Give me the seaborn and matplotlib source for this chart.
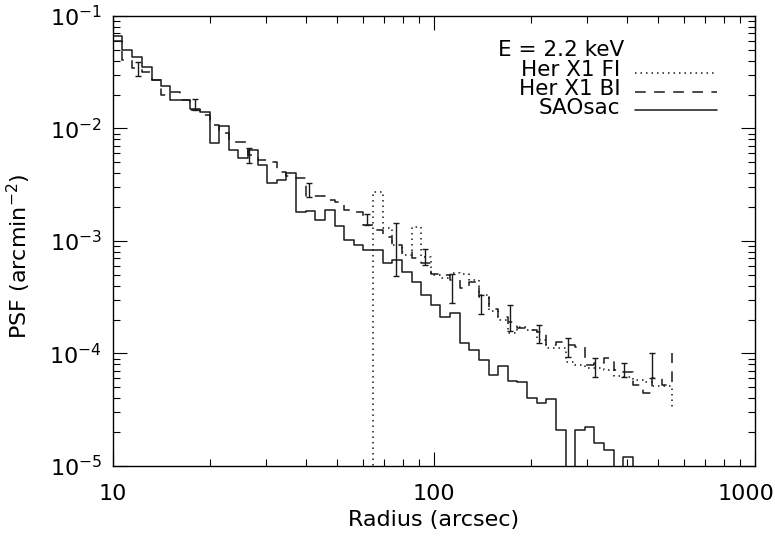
import numpy as np
import pandas as pd
import seaborn as sns
import matplotlib.pyplot as plt
import matplotlib.transforms as mtransforms
from matplotlib.ticker import LogLocator, NullFormatter

#------------------------------- DATA --------------------------------#
# bin edges in arcsec (log bins)
edges = [10.0, 10.7, 11.5, 12.3, 13.2, 14.1, 15.1, 16.2, 17.4, 18.6,
         20.0, 21.4, 22.9, 24.5, 26.3, 28.2, 30.2, 32.4, 34.7, 37.2,
         39.8, 42.7, 45.7, 49.0, 52.5, 56.2, 60.3, 64.6, 69.2, 74.1,
         79.4, 85.1, 91.2, 97.7, 104.7, 112.2, 120.2, 128.8, 138.0, 147.9,
         158.5, 169.8, 182.0, 195.0, 208.9, 223.9, 239.9, 257.0, 275.4, 295.1,
         316.2, 338.8, 363.1, 389.0, 416.9, 446.7, 478.6, 512.9, 549.5]

# PSF per bin (arcmin^-2), last entry = level the step falls to at the end
saosac = [0.066, 0.050, 0.043, 0.035, 0.027, 0.024, 0.018, 0.018, 0.015, 0.014,
          0.0075, 0.0105, 0.0064, 0.0055, 0.0064, 0.0047, 0.0033, 0.0035, 0.0040, 0.0018,
          0.00185, 0.00154, 0.00189, 0.00136, 0.00102, 0.00092, 0.00083, 0.00083, 0.00064, 0.00068,
          0.00053, 0.00043, 0.00033, 0.00027, 0.00021, 0.00023, 0.000124, 0.000107, 8.8e-5, 6.4e-5,
          7.7e-5, 5.7e-5, 5.6e-5, 4.0e-5, 3.6e-5, 3.9e-5, 2.1e-5, 5e-6, 2.1e-5, 2.2e-5,
          1.6e-5, 1.4e-5, 5e-6, 1.2e-5, 3e-6]

her_bi = [0.060, 0.041, 0.0345, 0.032, 0.027, 0.020, 0.021, 0.0179, 0.0146, 0.0132,
          0.0107, 0.0091, 0.0076, 0.0076, 0.0058, 0.0052, 0.0050, 0.0041, 0.0038, 0.0036,
          0.0025, 0.0025, 0.0023, 0.0022, 0.0019, 0.0018, 0.0014, 0.00125, 0.00109, 0.00092,
          0.00080, 0.00071, 0.00064, 0.00051, 0.00050, 0.00045, 0.00038, 0.00043, 0.00032, 0.00025,
          0.00021, 0.00019, 0.000169, 0.000162, 0.000155, 0.000119, 0.000127, 0.000119, 0.000114, 7.9e-5,
          8.2e-5, 9.1e-5, 7.1e-5, 6.9e-5, 5.2e-5, 4.5e-5, 6.1e-5, 5.2e-5, 1.0e-4]

# FI profile starts at 60 arcsec (first bin empty)
her_fi = [1e-7, 0.0027, 0.0013, 0.00092, 0.00075, 0.00133, 0.00072, 0.00050, 0.00047, 0.00052,
          0.00051, 0.00045, 0.00033, 0.00024, 0.00020, 0.000152, 0.000172, 0.000162, 0.000132, 0.000112,
          0.000112, 8.4e-5, 7.9e-5, 7.4e-5, 7.4e-5, 7.1e-5, 6.3e-5, 6.2e-5, 5.8e-5, 5.6e-5,
          5.1e-5, 5.1e-5, 3.3e-5]

# error bars on the BI profile
err_r = [12.0, 18.0, 26.5, 40.8, 61.8, 76.1, 93.8, 113.8, 140.1, 172.5,
         212.4, 261.5, 317.4, 390.8, 477.6]
err_hi = [0.039, 0.0183, 0.0067, 0.00328, 0.00174, 0.00145, 0.00085, 0.00051, 0.00033, 0.00027,
          0.000179, 0.000137, 9.1e-5, 8.2e-5, 1.01e-4]
err_lo = [0.0293, 0.0146, 0.0049, 0.00246, 0.00139, 0.00049, 0.00061, 0.00028, 0.000224, 0.000158,
          0.000124, 9.3e-5, 6.2e-5, 6.2e-5, 6.1e-5]

x_ticks = [10, 100, 1000]
x_labels = ['10', '100', '1000']
y_ticks = [1e-5, 1e-4, 1e-3, 1e-2, 1e-1]
y_labels = [r'$10^{-5}$', r'$10^{-4}$', r'$10^{-3}$', r'$10^{-2}$', r'$10^{-1}$']

#------------------------------- PLOT --------------------------------#
sns.set_theme(style='ticks', rc={'axes.edgecolor': 'black', 'text.color': 'black',
                                 'xtick.color': 'black', 'ytick.color': 'black',
                                 'axes.labelcolor': 'black', 'axes.linewidth': 1.0})
plt.rcParams['font.family'] = ['DejaVu Sans']
plt.rcParams['mathtext.fontset'] = 'dejavusans'

df_sao = pd.DataFrame({'radius': edges[:len(saosac)], 'psf': saosac})
df_bi = pd.DataFrame({'radius': edges[:len(her_bi)], 'psf': her_bi})
df_fi = pd.DataFrame({'radius': edges[len(edges) - len(her_fi):], 'psf': her_fi})

fig = plt.figure(figsize=(7.75, 5.36), dpi=100)
ax = fig.add_axes([0.1458, 0.1306, 0.8284, 0.8396])

styles = {'fi': (0, (1, 2.6)), 'bi': (0, (7, 5.5)), 'sao': '-'}

sns.lineplot(data=df_fi, x='radius', y='psf', drawstyle='steps-post', color='k',
             lw=1.1, linestyle=styles['fi'], estimator=None, legend=False, ax=ax)
sns.lineplot(data=df_bi, x='radius', y='psf', drawstyle='steps-post', color='k',
             lw=1.1, linestyle=styles['bi'], estimator=None, legend=False, ax=ax)
sns.lineplot(data=df_sao, x='radius', y='psf', drawstyle='steps-post', color='k',
             lw=1.1, linestyle=styles['sao'], estimator=None, legend=False, ax=ax)

lo = np.array(err_lo)
hi = np.array(err_hi)
mid = np.sqrt(lo * hi)
ax.errorbar(err_r, mid, yerr=[mid - lo, hi - mid], fmt='none', ecolor='k',
            elinewidth=1.0, capsize=2.5, capthick=1.0)

ax.set_xscale('log')
ax.set_yscale('log')
ax.set_xlim(10, 1000)
ax.set_ylim(1e-5, 1e-1)
ax.set_xticks(x_ticks, x_labels)
ax.set_yticks(y_ticks, y_labels)
for axis in (ax.xaxis, ax.yaxis):
    axis.set_minor_locator(LogLocator(base=10, subs=np.arange(2, 10)))
    axis.set_minor_formatter(NullFormatter())
ax.tick_params(which='both', direction='in', top=True, right=True, width=0.8)
ax.tick_params(which='major', length=10, labelsize=16)
ax.tick_params(which='minor', length=5)
ax.tick_params(axis='x', pad=13)
ax.tick_params(axis='y', pad=8)

# the last x label sits against the right edge of the figure, as in the original
last = ax.get_xticklabels()[-1]
last.set_ha('right')
last.set_transform(last.get_transform() +
                   mtransforms.ScaledTranslation(0.19, 0, fig.dpi_scale_trans))

ax.set_xlabel('Radius (arcsec)', fontsize=16)
ax.set_ylabel(r'PSF (arcmin$^{-2}$)', fontsize=16)
ax.xaxis.set_label_coords(0.5, -0.098)
ax.yaxis.set_label_coords(-0.125, 0.467)

# key, drawn IDL style: label on the left, line sample on the right
ax.text(0.797, 0.924, 'E = 2.2 keV', ha='right', va='center', fontsize=15.5,
        transform=ax.transAxes)
key = [('Her X1 FI', styles['fi'], 0.880), ('Her X1 BI', styles['bi'], 0.838),
       ('SAOsac', styles['sao'], 0.796)]
for lab, ls, yk in key:
    ax.text(0.790, yk, lab, ha='right', va='center', fontsize=15.5, transform=ax.transAxes)
    ax.plot([0.813, 0.941], [yk - 0.006, yk - 0.006], color='k', lw=1.1, linestyle=ls,
            transform=ax.transAxes)

fig.savefig('out.png', dpi=100)
